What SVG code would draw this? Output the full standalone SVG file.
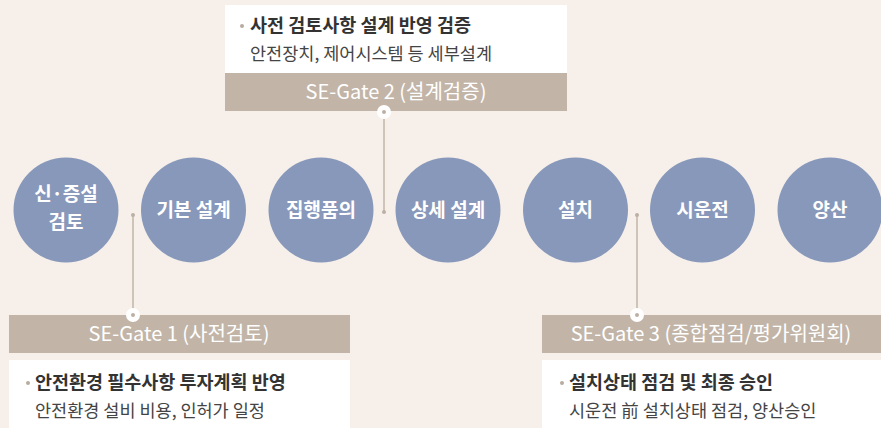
<svg xmlns="http://www.w3.org/2000/svg" width="881" height="428" viewBox="0 0 881 428">
<style>
.bg{fill:#f7f0ea}
.c{fill:#8898ba}
.ct{fill:#fff;font-family:"Noto Sans CJK KR","Noto Sans",sans-serif;font-weight:bold;font-size:19px;text-anchor:middle}
.bar{fill:#c2b5a8}
.bt{fill:#fff;font-family:"Noto Sans CJK KR","Noto Sans",sans-serif;font-size:20px;text-anchor:middle}
.box{fill:#fff}
.h{fill:#333;font-family:"Noto Sans CJK KR",sans-serif;font-weight:bold;font-size:18.5px}
.d{fill:#444;font-family:"Noto Sans CJK KR",sans-serif;font-size:17.5px}
.bul{fill:#b8aca0}
.ln{stroke:#cfc4b8;stroke-width:2;fill:none}
.dot{fill:#bcb0a4}
</style>
<rect class="bg" x="0" y="0" width="881" height="428"/>
<g id="connectors">
<line class="ln" x1="384" y1="112" x2="384" y2="212"/>
<circle class="dot" cx="384" cy="212" r="2"/>
<line class="ln" x1="133" y1="215" x2="133" y2="315"/>
<circle class="dot" cx="133" cy="215" r="2"/>
<line class="ln" x1="637" y1="215" x2="637" y2="315"/>
<circle class="dot" cx="637" cy="215" r="2"/>
</g>
<g id="n1"><circle class="c" cx="66" cy="210" r="52.5"/><text class="ct" x="66" y="201">신·증설</text><text class="ct" x="66" y="229">검토</text></g>
<g id="n2"><circle class="c" cx="193.5" cy="210" r="52.5"/><text class="ct" x="193.5" y="217">기본 설계</text></g>
<g id="n3"><circle class="c" cx="321" cy="210" r="52.5"/><text class="ct" x="321" y="217">집행품의</text></g>
<g id="n4"><circle class="c" cx="448" cy="210" r="52.5"/><text class="ct" x="448" y="217">상세 설계</text></g>
<g id="n5"><circle class="c" cx="575.5" cy="210" r="52.5"/><text class="ct" x="575.5" y="217">설치</text></g>
<g id="n6"><circle class="c" cx="702.5" cy="210" r="52.5"/><text class="ct" x="702.5" y="217">시운전</text></g>
<g id="n7"><circle class="c" cx="830" cy="210" r="52.5"/><text class="ct" x="830" y="217">양산</text></g>
<g id="gate2">
<rect class="box" x="225" y="5" width="342" height="68"/>
<circle class="bul" cx="242" cy="26" r="2"/>
<text class="h" x="250" y="32">사전 검토사항 설계 반영 검증</text>
<text class="d" x="250" y="60">안전장치, 제어시스템 등 세부설계</text>
<rect class="bar" x="225" y="73" width="342" height="38"/>
<text class="bt" x="396" y="99">SE-Gate 2 (설계검증)</text>
<circle cx="384" cy="112" r="7" fill="#fff"/>
<circle class="dot" cx="384" cy="112" r="2"/>
</g>
<g id="gate1">
<rect class="bar" x="9" y="315" width="341" height="38"/>
<text class="bt" x="179" y="341">SE-Gate 1 (사전검토)</text>
<circle cx="133" cy="315" r="7" fill="#fff"/>
<circle class="dot" cx="133" cy="315" r="2"/>
<rect class="box" x="9" y="360" width="341" height="68"/>
<circle class="bul" cx="28" cy="383" r="2"/>
<text class="h" x="35" y="389">안전환경 필수사항 투자계획 반영</text>
<text class="d" x="35" y="417">안전환경 설비 비용, 인허가 일정</text>
</g>
<g id="gate3">
<rect class="bar" x="542" y="315" width="339" height="38"/>
<text class="bt" x="711" y="341">SE-Gate 3 (종합점검/평가위원회)</text>
<circle cx="637" cy="315" r="7" fill="#fff"/>
<circle class="dot" cx="637" cy="315" r="2"/>
<rect class="box" x="542" y="360" width="339" height="68"/>
<circle class="bul" cx="562" cy="383" r="2"/>
<text class="h" x="569" y="389">설치상태 점검 및 최종 승인</text>
<text class="d" x="569" y="417">시운전 前 설치상태 점검, 양산승인</text>
</g>
</svg>
